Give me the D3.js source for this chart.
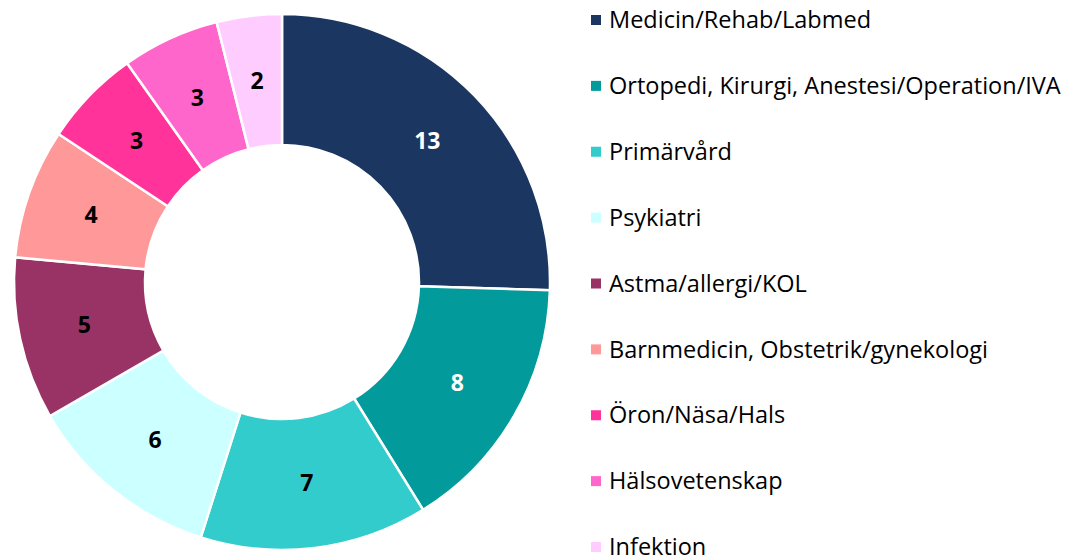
<!DOCTYPE html>
<html>
<head>
<meta charset="utf-8">
<script src="https://cdn.jsdelivr.net/npm/d3@7"></script>
<style>
  body { margin: 0; background: #fff; }
  svg { display: block; }
</style>
</head>
<body>
<div id="visual"></div>
<script>
const categories = [
  "Medicin/Rehab/Labmed",
  "Ortopedi, Kirurgi, Anestesi/Operation/IVA",
  "Primärvård",
  "Psykiatri",
  "Astma/allergi/KOL",
  "Barnmedicin, Obstetrik/gynekologi",
  "Öron/Näsa/Hals",
  "Hälsovetenskap",
  "Infektion"
]
const counts = [13, 8, 7, 6, 5, 4, 3, 3, 2]
const colors = ["#1b3761", "#029a9a", "#33cccc", "#ccffff", "#993366", "#ff9999", "#ff3399", "#ff66cc", "#ffccff"]
const labelColors = ["#fff", "#fff", "#000", "#000", "#000", "#000", "#000", "#000", "#000"]

let width = 1079,
    height = 559

const font = "'Open Sans', sans-serif"

const svg = d3.select("#visual")
  .append("svg")
  .attr("width", width)
  .attr("height", height)

let data = categories.map((c, i) => ({ name: c, value: counts[i], i: i }))

let pie = d3.pie()
  .value(d => d.value)
  .sort(null)

let arc = d3.arc()
  .innerRadius(137)
  .outerRadius(268)

let donut = svg.append("g")
  .attr("transform", "translate(282,282)")

donut.selectAll("path")
  .data(pie(data))
  .enter()
  .append("path")
  .attr("d", arc)
  .attr("fill", d => colors[d.data.i])
  .attr("stroke", "#fff")
  .attr("stroke-width", 2.5)

donut.selectAll("text")
  .data(pie(data))
  .enter()
  .append("text")
  .attr("x", d => arc.centroid(d)[0])
  .attr("y", d => arc.centroid(d)[1])
  .attr("dy", "0.35em")
  .attr("text-anchor", "middle")
  .attr("font-family", font)
  .attr("font-weight", "bold")
  .attr("font-size", "23px")
  .attr("fill", d => labelColors[d.data.i])
  .text(d => d.data.value)

// legend
let legendY = d3.scalePoint()
  .domain(categories)
  .range([20, 547])

let legend = svg.append("g")
  .selectAll("g")
  .data(data)
  .enter()
  .append("g")
  .attr("transform", d => "translate(0," + legendY(d.name) + ")")

legend.append("rect")
  .attr("x", 591)
  .attr("y", -5)
  .attr("width", 10)
  .attr("height", 10)
  .attr("fill", d => colors[d.i])

legend.append("text")
  .attr("x", 609)
  .attr("y", 0)
  .attr("dy", "0.35em")
  .attr("font-family", font)
  .attr("font-size", "23.5px")
  .attr("fill", "#000")
  .text(d => d.name)
</script>
</body>
</html>
